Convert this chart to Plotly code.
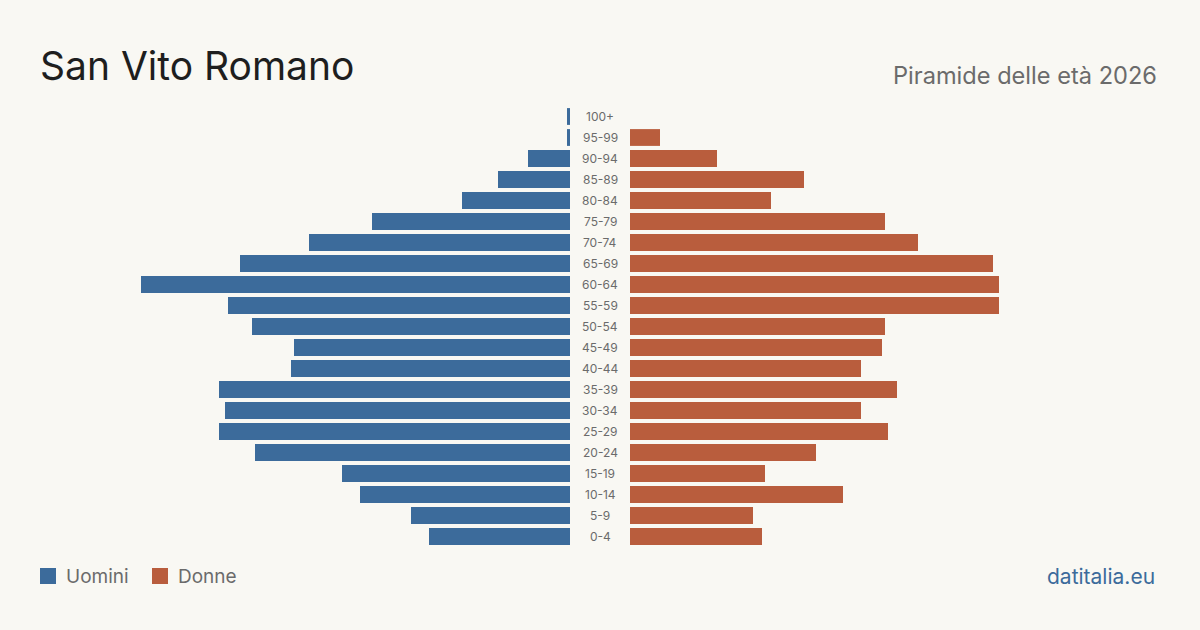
import plotly.graph_objects as go

age_groups = ["0-4", "5-9", "10-14", "15-19", "20-24", "25-29", "30-34", "35-39",
              "40-44", "45-49", "50-54", "55-59", "60-64", "65-69", "70-74", "75-79",
              "80-84", "85-89", "90-94", "95-99", "100+"]
uomini = [47, 53, 70, 76, 105, 117, 115, 117, 93, 92, 106, 114, 143, 110, 87, 66,
          36, 24, 14, 1, 1]
donne = [44, 41, 71, 45, 62, 86, 77, 89, 77, 84, 85, 123, 123, 121, 96, 85,
         47, 58, 29, 10, 0]

title_text = "San Vito Romano"
subtitle_text = "Piramide delle età 2026"
source_text = "datitalia.eu"

BLUE = "#3c6b9b"
ORANGE = "#b95d3d"
BG = "#f9f8f3"
GREY = "#6b6b6b"
FONT = "Inter, 'Open Sans', sans-serif"
GAP = 10  # half-gap (in data units) between the two sides for the age labels

W, H = 1200, 630
T, B = 106, 83
plot_h = H - T - B

def py(y_px):
    return (H - B - y_px) / plot_h

fig = go.Figure()
fig.add_trace(go.Bar(
    y=age_groups, x=[-v for v in uomini], base=-GAP, orientation="h",
    marker=dict(color=BLUE, line=dict(width=0)), name="Uomini",
    hovertemplate="%{y}: %{customdata}<extra>Uomini</extra>", customdata=uomini,
))
fig.add_trace(go.Bar(
    y=age_groups, x=donne, base=GAP, orientation="h",
    marker=dict(color=ORANGE, line=dict(width=0)), name="Donne",
    hovertemplate="%{y}: %{x}<extra>Donne</extra>",
))

annotations = []
for g in age_groups:
    annotations.append(dict(x=0, y=g, xref="x", yref="y", text=g, showarrow=False,
                            font=dict(size=12, color=GREY, family=FONT),
                            xanchor="center", yanchor="middle"))

annotations.append(dict(x=1159 / W, y=py(76), xref="paper", yref="paper",
                        text=subtitle_text, showarrow=False, xanchor="right",
                        yanchor="middle", font=dict(size=23.6, color=GREY, family=FONT)))
annotations.append(dict(x=1157 / W, y=py(576), xref="paper", yref="paper",
                        text=source_text, showarrow=False, xanchor="right",
                        yanchor="middle", font=dict(size=21, color=BLUE, family=FONT)))

legend_items = [("Uomini", BLUE, 40), ("Donne", ORANGE, 152)]
shapes = []
for name, col, x0 in legend_items:
    shapes.append(dict(type="rect", xref="paper", yref="paper",
                       x0=x0 / W, x1=(x0 + 16) / W, y0=py(584), y1=py(568),
                       fillcolor=col, line=dict(width=0)))
    annotations.append(dict(x=(x0 + 24) / W, y=py(576), xref="paper", yref="paper",
                            text=name, showarrow=False, xanchor="left", yanchor="middle",
                            font=dict(size=19, color=GREY, family=FONT)))

fig.update_layout(
    width=W, height=H,
    margin=dict(l=0, r=0, t=T, b=B, pad=0),
    paper_bgcolor=BG, plot_bgcolor=BG,
    barmode="overlay", bargap=0.2,
    showlegend=False,
    title=dict(text=title_text, x=40 / W, xref="container", xanchor="left",
               y=1 - 66 / H, yref="container", yanchor="middle",
               font=dict(size=39, color="#1e1e1e", family=FONT)),
    xaxis=dict(range=[-200, 200], visible=False, fixedrange=True),
    yaxis=dict(categoryorder="array", categoryarray=age_groups, range=[-0.5, 20.5],
               visible=False, fixedrange=True),
    annotations=annotations,
    shapes=shapes,
)

fig.write_html("out.html")
